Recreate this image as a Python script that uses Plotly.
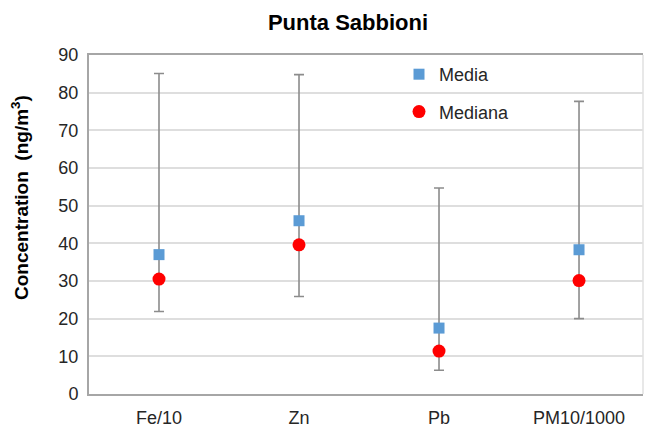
import plotly.graph_objects as go

categories = ["Fe/10", "Zn", "Pb", "PM10/1000"]
media = [37.0, 46.0, 17.5, 38.3]
mediana = [30.5, 39.6, 11.4, 30.1]
minimo = [21.9, 25.9, 6.3, 20.0]
massimo = [85.1, 84.8, 54.7, 77.7]
y_ticks = [0, 10, 20, 30, 40, 50, 60, 70, 80, 90]

W, H = 645, 432
L, R, T, B = 89, 2, 55, 38

err_plus = [mx - m for mx, m in zip(massimo, media)]
err_minus = [m - mn for m, mn in zip(media, minimo)]

fig = go.Figure()
fig.add_trace(go.Scatter(
    x=categories, y=media, mode="markers", name="Media",
    legendgroup="a",
    marker=dict(symbol="square", size=11, color="#5B9BD5"),
    error_y=dict(type="data", symmetric=False, array=err_plus, arrayminus=err_minus,
                 color="#8c8c8c", thickness=1.6, width=5),
))
fig.add_trace(go.Scatter(
    x=categories, y=mediana, mode="markers", name="Mediana",
    legendgroup="b",
    marker=dict(symbol="circle", size=13, color="#FF0000"),
))

font = "Liberation Sans, Arial, sans-serif"
fig.update_layout(
    width=W, height=H,
    margin=dict(l=L, r=R, t=T, b=B),
    paper_bgcolor="white", plot_bgcolor="white",
    font=dict(family=font, size=18, color="#262626"),
    title=dict(text="<b>Punta Sabbioni</b>", x=348 / W, xref="container", xanchor="center",
               y=1 - 22 / H, yref="container", yanchor="middle",
               font=dict(family=font, size=22, color="#000000")),
    showlegend=True,
    legend=dict(x=(399 - L) / (W - L - R), y=1 - (56 - T) / (H - T - B), xanchor="left", yanchor="top",
                traceorder="grouped", tracegroupgap=11, bgcolor="rgba(0,0,0,0)",
                font=dict(family=font, size=18, color="#262626"), itemwidth=30),
    xaxis=dict(range=[-0.5, 3.457], showgrid=False, showline=True, linecolor="#a6a6a6",
               linewidth=2, mirror=True, ticks="", ticklabelstandoff=6,
               tickfont=dict(family=font, size=18, color="#262626"), zeroline=False),
    yaxis=dict(range=[0, 90], tickvals=y_ticks, showgrid=True, gridcolor="#dedede", gridwidth=1.5,
               showline=True, linecolor="#a6a6a6", linewidth=2, ticks="", ticklabelstandoff=5,
               tickfont=dict(family=font, size=18, color="#262626"), zeroline=False),
    shapes=[dict(type="line", xref="paper", yref="paper", x0=1, x1=1, y0=0, y1=1,
                 line=dict(color="#e0e0e0", width=1.5))],
    annotations=[dict(text="<b>Concentration  (ng/m<sup>3</sup>)</b>", textangle=-90,
                      xref="paper", yref="paper", x=(20 - L) / (W - L - R), y=1 - (198 - T) / (H - T - B),
                      xanchor="center", yanchor="middle", showarrow=False,
                      font=dict(family=font, size=19, color="#000000"))],
)

fig.write_html("out.html", config={"displayModeBar": False},
               post_script="document.body.style.margin='0';document.body.style.overflow='hidden';")
